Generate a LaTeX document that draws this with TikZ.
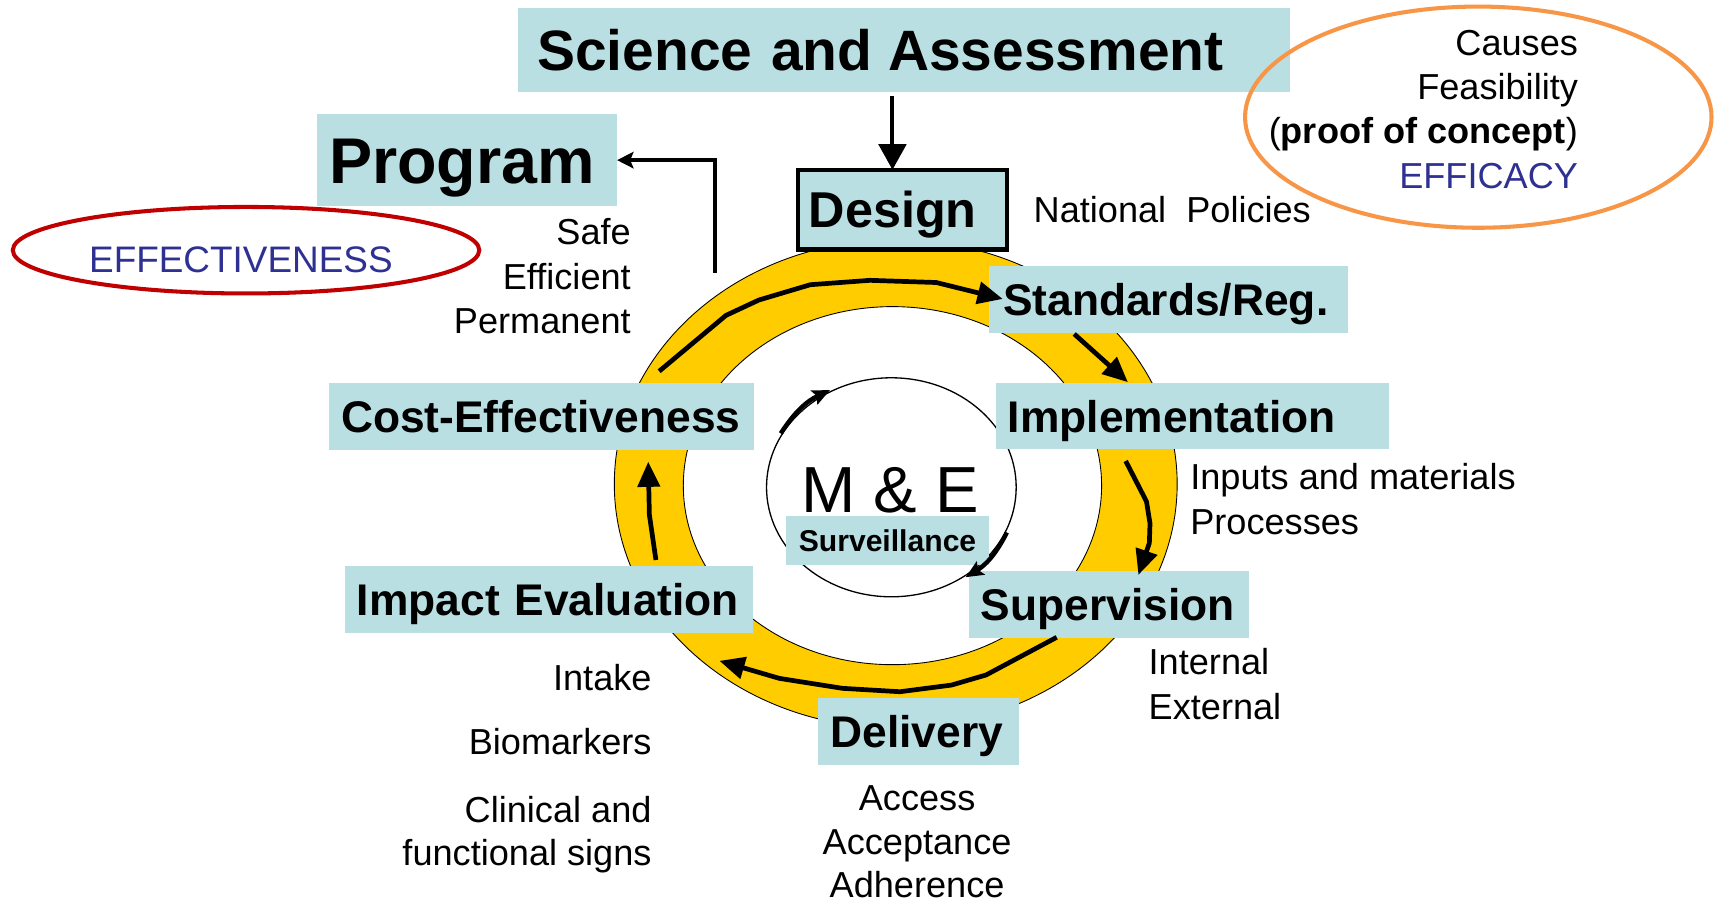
\documentclass[tikz,border=0pt]{standalone}
\usepackage{fontspec}
\setmainfont{Liberation Sans}
\usetikzlibrary{arrows.meta}
\definecolor{boxblue}{RGB}{185,223,227}
\definecolor{ringyellow}{RGB}{255,204,0}
\definecolor{ovalorange}{RGB}{247,150,70}
\definecolor{ovalred}{RGB}{192,0,0}
\definecolor{navytext}{RGB}{46,49,146}
\newcommand{\myfs}[1]{\fontsize{#1}{#1}\selectfont}
\begin{document}
\begin{tikzpicture}[x=1pt,y=-1pt,
  every node/.style={inner sep=0pt,outer sep=0pt},
  note/.style={font=\myfs{33}, text height=23.6pt, text depth=0pt},
  stage/.style={fill=boxblue, anchor=north west, font=\bfseries\myfs{40.5},
    text height=29pt, text depth=0pt, inner xsep=11pt, align=left, minimum height=60.5pt},
  ringarrow/.style={line width=4.3pt, line join=round, -{Triangle[length=23pt,width=20pt]}},
  thinarrow/.style={line width=3.2pt, -{Stealth[length=15pt,width=15pt,inset=3pt]}},
  mearrow/.style={line width=4pt, -{Stealth[length=16pt,width=14pt,inset=3pt]}},
]
\fill[white] (0,0) rectangle (1568,824);
\path[use as bounding box] (0,0) rectangle (1568,824);

% ring
\draw[line width=0.8pt, fill=ringyellow, even odd rule]
  (818,442) ellipse [x radius=257, y radius=223]
  (815,443.5) ellipse [x radius=191, y radius=163.5];

% M&E circle
\coordinate (mecenter) at (814,445);
\draw[line width=1.2pt] (mecenter) ellipse [x radius=114, y radius=100];
\node[font=\myfs{59.5}, text height=42.6pt, text depth=0pt] (me) at (813,447) {M \& E};
\node[fill=boxblue, minimum width=185pt, minimum height=45pt, font=\bfseries\myfs{27.5},
  text height=19.7pt, text depth=0pt] (surv) at (810.5,493.5) {Surveillance};

% boxes
\node[stage, text width=670pt, inner xsep=17.5pt, font=\bfseries\myfs{52}, text height=37.2pt,
  minimum height=77pt] (sci) at (473,7) {\mbox{Science and\kern-3pt\ Assessment}};
\node[stage, text width=252pt, inner xsep=11pt, font=\bfseries\myfs{59}, text height=42.2pt,
  minimum height=84.5pt] (prog) at (289.5,104) {\mbox{Program}};
\node[stage, draw=black, line width=4pt, text width=171.7pt, inner xsep=9.5pt, font=\bfseries\myfs{46},
  text height=33pt, minimum height=72.7pt] (design) at (729,155.1) {\mbox{Design}};
\node[stage, text width=302.2pt, inner xsep=12.5pt, minimum height=60.8pt] (std) at (903.5,243) {\mbox{Standards/Reg.}};
\node[stage, text width=337.1pt, minimum height=60.3pt] (impl) at (909.4,350) {\mbox{Implementation}};
\node[stage, text width=233.9pt, minimum height=60.9pt] (sup) at (884.7,521.5) {\mbox{Supervision}};
\node[stage, text width=161.3pt, minimum height=61.5pt] (deliv) at (747.3,637.1) {\mbox{Delivery}};
\node[stage, text width=351.1pt, minimum height=60.8pt] (impact) at (315,517) {\mbox{Impact Evaluation}};
\node[stage, text width=365.8pt, minimum height=61.5pt] (cost) at (300.5,349.5) {\mbox{Cost-Effectiveness}};

% notes
\node[note, anchor=west] (natpol) at (944,191.5) {National\ \ Policies};
\node[note, anchor=east] (safe) at (576,211.5) {Safe};
\node[note, anchor=east] (effic) at (576,253) {Efficient};
\node[note, anchor=east] (perm) at (576,293) {Permanent};
\node[note, anchor=west] (inputs) at (1087,435) {Inputs and materials};
\node[note, anchor=west] (proc) at (1087,476) {Processes};
\node[note, anchor=west] (intern) at (1049,604) {Internal};
\node[note, anchor=west] (extern) at (1049,645) {External};
\node[note] (access) at (837.5,728) {Access};
\node[note] (accept) at (837.5,768.5) {Acceptance};
\node[note] (adher) at (837.5,808) {Adherence};
\node[note, anchor=east] (intake) at (595,618.4) {Intake};
\node[note, anchor=east] (biom) at (595,677.6) {Biomarkers};
\node[note, anchor=east] (clin) at (595,739) {Clinical and};
\node[note, anchor=east] (func) at (595,778.5) {functional signs};

\node[note, anchor=east] (causes) at (1441,38.5) {Causes};
\node[note, anchor=east] (feas) at (1441,79) {Feasibility};
\node[note, anchor=east] (proof) at (1441,119.5) {(\textbf{proof of concept})};
\node[note, anchor=east, text=navytext] (efficacy) at (1441,160) {EFFICACY};
\node[note, font=\myfs{33.7}, text=navytext] (effect) at (220,236.7) {EFFECTIVENESS};

% ovals
\draw[ovalorange, line width=3.7pt] (1350,107) ellipse [x radius=213, y radius=101];
\draw[ovalred, line width=3.7pt] (224.7,228.5) ellipse [x radius=213, y radius=39.5];

% connectors
\coordinate (sciout) at (815,87.4);
\draw[line width=3.7pt, -{Triangle[length=23.5pt,width=25pt]}] (sciout) -- (sciout |- design.north);
\coordinate (progfrom) at (653,249);
\draw[thinarrow] (progfrom) |- (prog.east);

\coordinate (r1s) at (602,339);
\coordinate (r1e) at (915.7,273);
\draw[ringarrow] (r1s) -- (663,288) -- (693,274) -- (740,260) -- (794.5,256) -- (855,258) -- (r1e);
\coordinate (r2s) at (981,305);
\coordinate (r2e) at (1030,349);
\draw[ringarrow] (r2s) -- (r2e);
\coordinate (r3s) at (1028,421);
\coordinate (r3e) at (1039.6,525);
\draw[ringarrow] (r3s) -- (1047,458) -- (1050.2,478) -- (1049.6,496) -- (r3e);
\coordinate (r4s) at (965,582);
\coordinate (r4e) at (657,603.5);
\draw[ringarrow] (r4s) -- (900.5,616.4) -- (869,625.6) -- (821.8,631.7) -- (769.4,628.6) -- (711.7,619.5) -- (r4e);
\coordinate (r5s) at (599,511.4);
\coordinate (r5e) at (592,421.6);
\draw[ringarrow] (r5s) -- (593,470) -- (r5e);

\coordinate (me1s) at (713.0,395.8);
\coordinate (me1e) at (758.0,356.2);
\draw[mearrow] (me1s) to[bend left=16] (me1e);
\coordinate (me2s) at (919.5,486.3);
\coordinate (me2e) at (881.9,527.1);
\draw[mearrow] (me2s) to[bend left=16] (me2e);
\end{tikzpicture}
\end{document}
